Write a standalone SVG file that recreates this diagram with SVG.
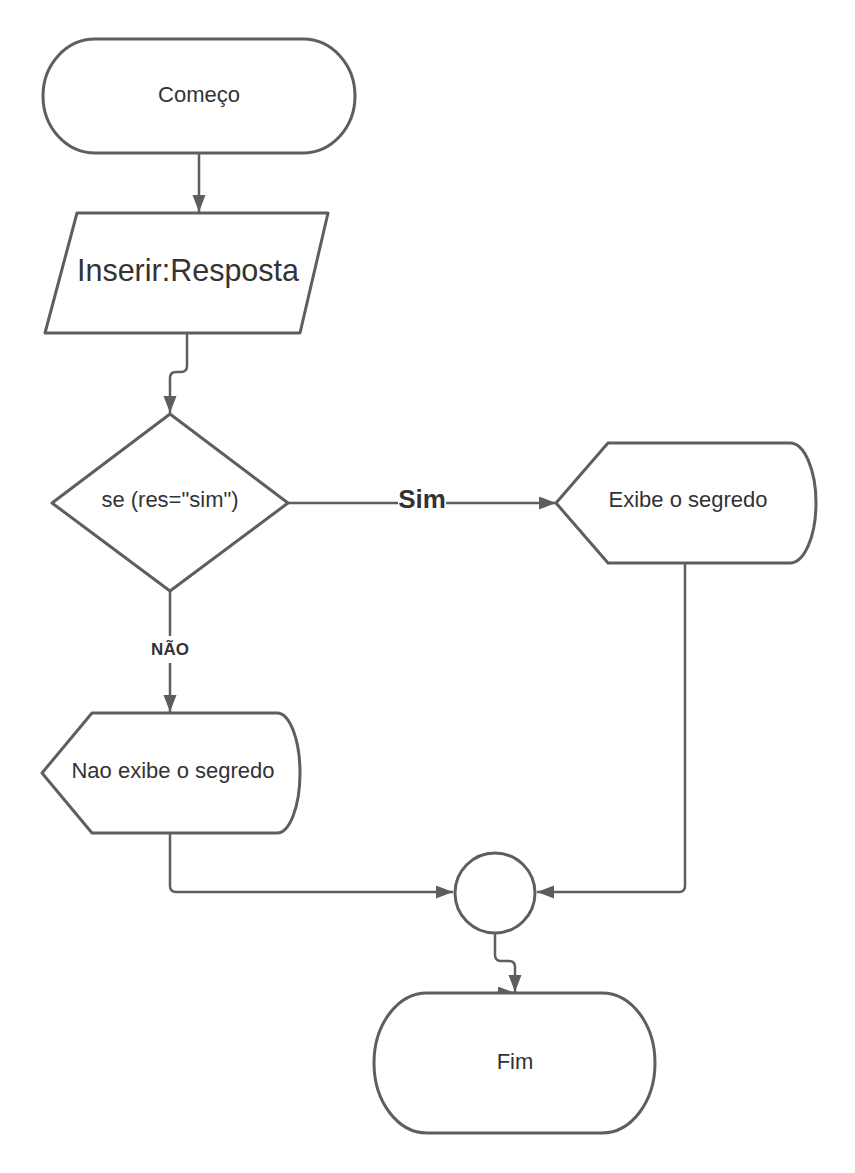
<svg xmlns="http://www.w3.org/2000/svg" width="855" height="1173" viewBox="0 0 855 1173">
<style>
.shape{fill:#ffffff;stroke:#5e5e5e;stroke-width:3;stroke-linejoin:round}
.conn{fill:none;stroke:#5e5e5e;stroke-width:2.5}
.t{font-family:"Liberation Sans",Arial,sans-serif;fill:#333333;text-anchor:middle}
.lbl{font-family:"Liberation Sans",Arial,sans-serif;fill:#333333;text-anchor:middle;font-weight:bold}
</style>
<defs>
<marker id="arr" markerUnits="userSpaceOnUse" markerWidth="18" markerHeight="14" refX="17" refY="6.5" orient="auto">
<path d="M0,0 L17,6.5 L0,13 Z" fill="#5e5e5e"/>
</marker>
</defs>
<rect width="855" height="1173" fill="#ffffff"/>
<g id="connectors">
<path class="conn" d="M199,153 V212" marker-end="url(#arr)"/>
<path class="conn" d="M187,333 V366 Q187,372 181,372 H176 Q170,372 170,378 V413" marker-end="url(#arr)"/>
<path class="conn" d="M170,591 V636"/>
<path class="conn" d="M170,663 V712" marker-end="url(#arr)"/>
<path class="conn" d="M288,503 H398"/>
<path class="conn" d="M446,503 H556" marker-end="url(#arr)"/>
<path class="conn" d="M685,563 V886 Q685,892 679,892 H537" marker-end="url(#arr)"/>
<path class="conn" d="M170,833 V886 Q170,892 176,892 H453" marker-end="url(#arr)"/>
<path class="conn" d="M495,933 V955 Q495,961 501,961 H509 Q515,961 515,967 V992" marker-end="url(#arr)"/>
<path class="conn" d="M497,993 H515" marker-end="url(#arr)"/>
<text class="lbl" x="422" y="508" font-size="26">Sim</text>
<text class="lbl" x="170" y="655" font-size="17">NÃO</text>
</g>
<g id="comeco">
<rect class="shape" x="43" y="39" width="312" height="114" rx="52" ry="57"/>
<text class="t" x="199" y="102" font-size="22">Começo</text>
</g>
<g id="inserir">
<path class="shape" d="M77,213 H328 L300,333 H45 Z"/>
<text class="t" x="188" y="281" font-size="30.5">Inserir:Resposta</text>
</g>
<g id="decisao">
<path class="shape" d="M170,414 L288,503 L170,591 L52,503 Z"/>
<text class="t" x="170" y="507" font-size="22">se (res="sim")</text>
</g>
<g id="exibe">
<path class="shape" d="M556,503 L608,443 H790 A26,60 0 0 1 790,563 H608 Z"/>
<text class="t" x="688" y="507" font-size="22">Exibe o segredo</text>
</g>
<g id="naoexibe">
<path class="shape" d="M42,773 L92,713 H277 A23,60 0 0 1 277,833 H92 Z"/>
<text class="t" x="173" y="778" font-size="22">Nao exibe o segredo</text>
</g>
<g id="juncao">
<circle class="shape" cx="495" cy="893" r="40"/>
</g>
<g id="fim">
<rect class="shape" x="374" y="993" width="281" height="140" rx="53" ry="70"/>
<text class="t" x="515" y="1069" font-size="22">Fim</text>
</g>
</svg>
